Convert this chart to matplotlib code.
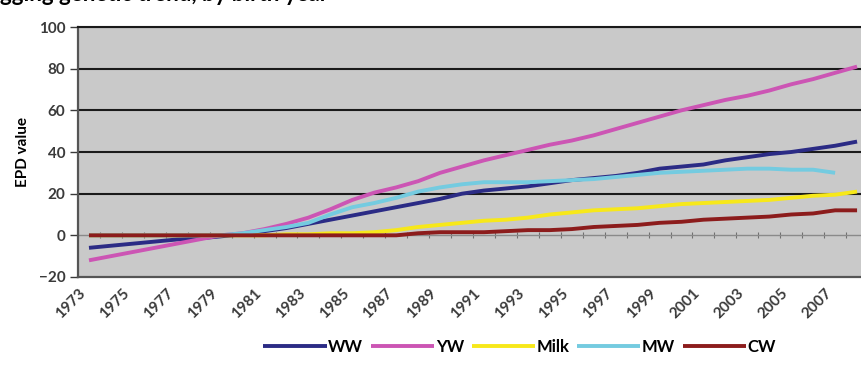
import matplotlib.pyplot as plt
from matplotlib.transforms import ScaledTranslation

# EPD genetic trends by birth year
years = list(range(1973, 2009))

ww = [-6, -5, -4, -3, -2, -1.5, -0.5, 0.5, 2, 3.5, 5.5, 7.5, 9.5, 11.5, 13.5, 15.5,
      17.5, 20, 21.5, 22.5, 23.5, 25, 26.5, 27.5, 28.5, 30, 32, 33, 34, 36, 37.5,
      39, 40, 41.5, 43, 45]
yw = [-12, -10, -8, -6, -4, -2, 0, 1, 3, 5.5, 8.5, 12.5, 17, 20.5, 23, 26, 30, 33,
      36, 38.5, 41, 43.5, 45.5, 48, 51, 54, 57, 60, 62.5, 65, 67, 69.5, 72.5, 75,
      78, 81]
milk = [0, 0, 0, 0, 0, 0, 0, 0, 0, 0.5, 0.5, 1, 1, 1.5, 2.5, 4, 5, 6, 7, 7.5, 8.5,
        10, 11, 12, 12.5, 13, 14, 15, 15.5, 16, 16.5, 17, 18, 19, 19.5, 21]
mw = [0, 0, 0, 0, 0, 0, 0, 1, 2.5, 4, 6, 10, 13.5, 15.5, 18, 21, 23, 24.5, 25.5,
      25.5, 25.5, 26, 26.5, 27, 28, 29, 30, 30.5, 31, 31.5, 32, 32, 31.5, 31.5, 30,
      None]
cw = [0, 0, 0, 0, 0, 0, 0, 0, 0, 0, 0, 0, 0, 0, 0, 1, 1.5, 1.5, 1.5, 2, 2.5, 2.5,
      3, 4, 4.5, 5, 6, 6.5, 7.5, 8, 8.5, 9, 10, 10.5, 12, 12]

series_names = ["WW", "YW", "Milk", "MW", "CW"]
series_values = [ww, yw, milk, mw, cw]
series_colors = ["#2b2b85", "#cc55b4", "#f7e81a", "#74cbe0", "#8c1c1c"]

plt.rcParams['font.family'] = ['Lato', 'DejaVu Sans']

fig = plt.figure(figsize=(8.62, 3.68), dpi=100)
ax = fig.add_axes([0.0905, 0.2473, 0.9165, 0.6793])
ax.set_facecolor("#c9c9c9")

x = list(range(len(years)))
for name, vals, color in zip(series_names, series_values, series_colors):
    xs = [i for i, v in zip(x, vals) if v is not None]
    ys = [v for v in vals if v is not None]
    ax.plot(xs, ys, color=color, lw=2.8, label=name, solid_capstyle='butt', zorder=3)

ax.set_xlim(-0.5, len(years) - 0.5)
ax.set_ylim(-20, 100)
ax.set_yticks(range(-20, 101, 20))
for yv in range(20, 101, 20):
    ax.axhline(yv, color="#1a1a1a", lw=1.5, zorder=1)

ax.tick_params(axis='y', labelsize=11, colors="#3a3a3a", length=6, width=1, pad=3)
for lbl in ax.get_yticklabels():
    lbl.set_fontweight('bold')

ax.set_xticks(x[::2])
ax.set_xticklabels([str(y) for y in years[::2]], rotation=45, ha='right', va='center',
                   rotation_mode='anchor', fontsize=11, fontweight='bold',
                   color="#3a3a3a")
ax.tick_params(axis='x', length=0, pad=10)
shift = ScaledTranslation(-4 / 72, 0, fig.dpi_scale_trans)
for lbl in ax.get_xticklabels():
    lbl.set_transform(lbl.get_transform() + shift)

# category axis crossing at zero
zero_ax = ax.secondary_xaxis(20 / 120)
zero_ax.set_xticks([i - 0.5 for i in range(len(years) + 1)])
zero_ax.set_xticklabels([])
zero_ax.tick_params(direction='inout', length=4, color="#707070")
zero_ax.spines['bottom'].set_color("#8a8a8a")
zero_ax.spines['bottom'].set_linewidth(1)

for side in ['left', 'bottom', 'right']:
    ax.spines[side].set_color("#555555")
    ax.spines[side].set_linewidth(1.6)
ax.spines['top'].set_color("#1a1a1a")
ax.spines['top'].set_linewidth(1.5)

ax.set_ylabel("EPD value", fontsize=11, fontweight='bold', labelpad=6)

fig.legend(loc='center', bbox_to_anchor=(0.603, 0.057), ncol=5, frameon=False,
           handlelength=3.8, handletextpad=0.1, columnspacing=0.45,
           prop={'weight': 'bold', 'size': 12})

# title cut off at the top of the picture
fig.text(0.0, 1 - 1 / 368, "gging genetic trend, by birth year", fontsize=16,
         fontweight='bold', va='baseline', ha='left')

fig.savefig("out.png", dpi=100)
